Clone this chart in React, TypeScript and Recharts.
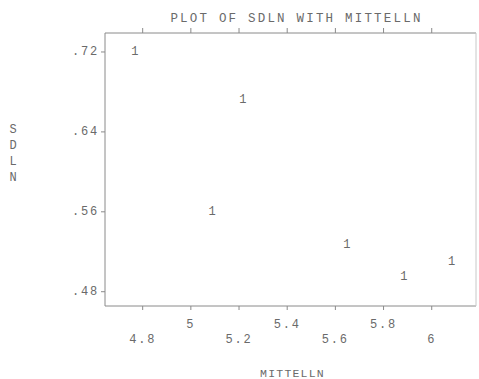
import React from 'react';
import { ScatterChart, Scatter, XAxis, YAxis } from 'recharts';

// MITTELLN / SDLN observations
const mittelln = [4.768, 5.216, 5.088, 5.648, 5.884, 6.082];
const sdln = [0.72, 0.672, 0.56, 0.527, 0.495, 0.51];

const xTicks = [4.8, 5.0, 5.2, 5.4, 5.6, 5.8, 6.0];
const xTickLabels = ['4.8', '5', '5.2', '5.4', '5.6', '5.8', '6'];
const yTicks = [0.48, 0.56, 0.64, 0.72];
const yTickLabels = ['.48', '.56', '.64', '.72'];

const title = 'PLOT OF SDLN WITH MITTELLN';
const xTitle = 'MITTELLN';
const yTitle = 'SDLN';

const points = mittelln.map((x, i) => ({ x, y: sdln[i] }));

const FONT = "'Liberation Mono', 'DejaVu Sans Mono', monospace";
const INK = '#6a6a6a';
const LINE = '#8a8a8a';

const PlotSymbol = (props: any) => {
  const { cx, cy } = props;
  return (
    <text x={cx} y={cy} textAnchor="middle" dominantBaseline="central"
      fontFamily={FONT} fontSize={12} fill={INK}>1</text>
  );
};

const NoSymbol = () => <g />;

// Bottom tick labels staggered on two rows
const BottomTick = (props: any) => {
  const { x, y, payload, index } = props;
  const upper = index % 2 === 1;
  const label = xTickLabels[xTicks.indexOf(payload.value)] ?? String(payload.value);
  return (
    <text x={x} y={y + (upper ? 13 : 28)} textAnchor="middle" dominantBaseline="central"
      fontFamily={FONT} fontSize={12} letterSpacing={1.8} fill={INK}>{label}</text>
  );
};

const NoTickLabel = () => <g />;

const LeftTick = (props: any) => {
  const { x, y, payload } = props;
  const label = yTickLabels[yTicks.indexOf(payload.value)] ?? String(payload.value);
  return (
    <text x={x} y={y} textAnchor="end" dominantBaseline="central"
      fontFamily={FONT} fontSize={12} letterSpacing={1.8} fill={INK}>{label}</text>
  );
};

const TitleLabel = (props: any) => {
  const vb = props.viewBox || {};
  return (
    <text x={vb.x + vb.width / 2 + 6} y={vb.y + 19} textAnchor="middle" dominantBaseline="central"
      fontFamily={FONT} fontSize={12.5} letterSpacing={2.2} fill={INK}>{title}</text>
  );
};

const XTitleLabel = (props: any) => {
  const vb = props.viewBox || {};
  return (
    <text x={vb.x + vb.width / 2 + 2} y={vb.y + 67} textAnchor="middle" dominantBaseline="central"
      fontFamily={FONT} fontSize={11.5} letterSpacing={1.2} fill={INK}>{xTitle}</text>
  );
};

const YTitleLabel = (props: any) => {
  const vb = props.viewBox || {};
  const cy = vb.y + vb.height / 2 - 40;
  return (
    <g>
      {yTitle.split('').map((ch, i) => (
        <text key={i} x={vb.x + 13} y={cy + i * 16.3} textAnchor="middle" dominantBaseline="central"
          fontFamily={FONT} fontSize={12} fill={INK}>{ch}</text>
      ))}
    </g>
  );
};

export default function App() {
  return (
    <div style={{ position: 'absolute', left: 0, top: 0, width: 479, height: 379, background: '#fff' }}>
      <ScatterChart width={479} height={379} margin={{ top: 0, right: 0, bottom: 0, left: 0 }}>
        <XAxis
          dataKey="x"
          type="number"
          domain={[4.6436, 6.1838]}
          ticks={xTicks}
          allowDataOverflow
          height={73}
          stroke={LINE}
          tickSize={4}
          tickMargin={2}
          tick={<BottomTick />}
          label={<XTitleLabel />}
        />
        <XAxis
          xAxisId="top"
          dataKey="x"
          orientation="top"
          type="number"
          domain={[4.6436, 6.1838]}
          ticks={xTicks}
          allowDataOverflow
          height={33}
          stroke={LINE}
          tickSize={5}
          tickMargin={0}
          tick={<NoTickLabel />}
          label={<TitleLabel />}
        />
        <YAxis
          dataKey="y"
          type="number"
          domain={[0.4657, 0.739]}
          ticks={yTicks}
          allowDataOverflow
          width={105}
          stroke={LINE}
          tickSize={4}
          tickMargin={2}
          tick={<LeftTick />}
          label={<YTitleLabel />}
        />
        <YAxis
          yAxisId="right"
          dataKey="y"
          orientation="right"
          type="number"
          domain={[0.4657, 0.739]}
          allowDataOverflow
          width={3}
          stroke="#c8c8c8"
          tick={false}
          tickLine={false}
        />
        <Scatter data={points} shape={<PlotSymbol />} isAnimationActive={false} />
        {/* frame companion: binds the top and right axes so they get their ticks */}
        <Scatter data={points} xAxisId="top" yAxisId="right" shape={<NoSymbol />}
          isAnimationActive={false} legendType="none" />
      </ScatterChart>
    </div>
  );
}
